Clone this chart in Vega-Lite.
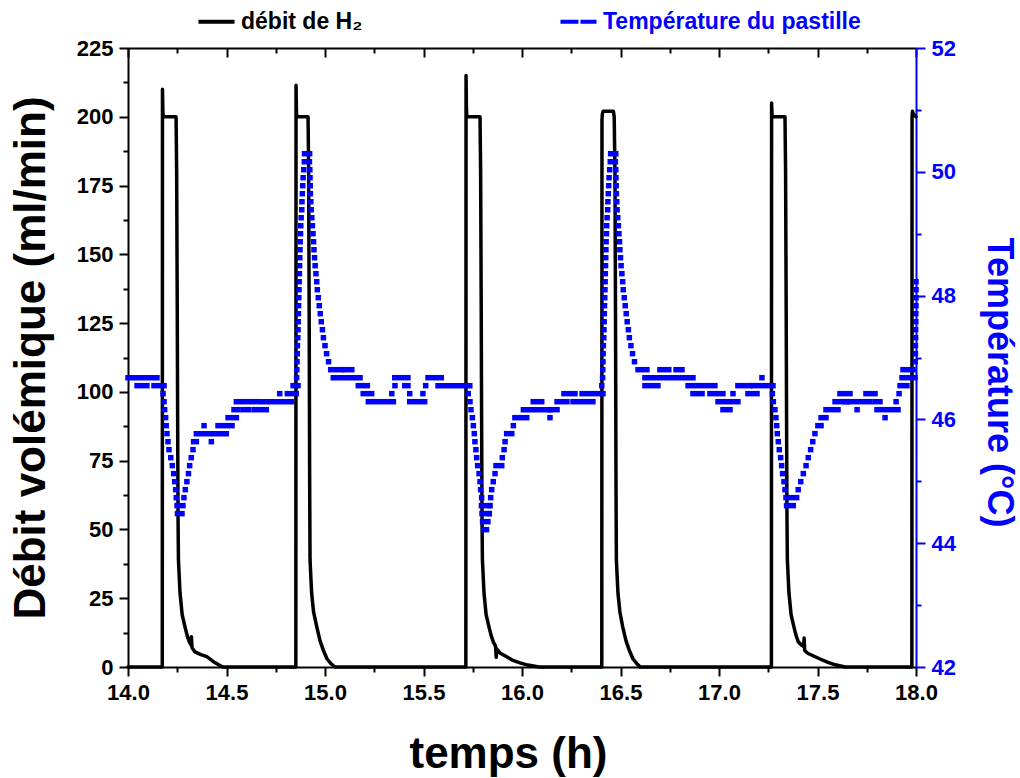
{
"$schema": "https://vega.github.io/schema/vega-lite/v6.json",
"width": 788, "height": 619,
"autosize": {"type": "none"},
"padding": {"left": 128, "top": 48, "right": 104, "bottom": 111},
"config": {"view": {"stroke": null}, "font": "Liberation Sans"},
"datasets": {
"flow": [
{"t":14.0,"flow":0},{"t":14.174,"flow":0},{"t":14.175,"flow":210},{"t":14.177,"flow":202},{"t":14.179,"flow":200},{"t":14.244,"flow":200},{"t":14.247,"flow":180},{"t":14.250,"flow":130},{"t":14.252,"flow":90},{"t":14.254,"flow":55},{"t":14.256,"flow":39},{"t":14.264,"flow":27},{"t":14.275,"flow":19},{"t":14.289,"flow":14.7},{"t":14.300,"flow":11.5},{"t":14.311,"flow":9.2},{"t":14.320,"flow":8},{"t":14.322,"flow":11},{"t":14.325,"flow":7},{"t":14.340,"flow":5.5},{"t":14.370,"flow":4.5},{"t":14.400,"flow":3.8},{"t":14.432,"flow":2},{"t":14.460,"flow":0.8},{"t":14.482,"flow":0},
{"t":14.852,"flow":0},{"t":14.853,"flow":211.5},{"t":14.855,"flow":202},{"t":14.857,"flow":200},{"t":14.914,"flow":200},{"t":14.917,"flow":180},{"t":14.920,"flow":120},{"t":14.922,"flow":70},{"t":14.924,"flow":39},{"t":14.932,"flow":27},{"t":14.942,"flow":20},{"t":14.958,"flow":14.7},{"t":14.975,"flow":9.5},{"t":14.991,"flow":6.2},{"t":15.010,"flow":3},{"t":15.030,"flow":1.2},{"t":15.051,"flow":0},
{"t":15.715,"flow":0},{"t":15.716,"flow":215},{"t":15.718,"flow":203},{"t":15.720,"flow":200},{"t":15.787,"flow":200},{"t":15.790,"flow":180},{"t":15.793,"flow":130},{"t":15.795,"flow":90},{"t":15.797,"flow":55},{"t":15.799,"flow":39},{"t":15.807,"flow":27},{"t":15.818,"flow":19},{"t":15.832,"flow":14.7},{"t":15.843,"flow":11.5},{"t":15.854,"flow":9.2},{"t":15.866,"flow":7.5},{"t":15.869,"flow":3.5},{"t":15.872,"flow":6.5},{"t":15.890,"flow":5},{"t":15.920,"flow":3.8},{"t":15.950,"flow":2.5},{"t":15.990,"flow":1.5},{"t":16.030,"flow":0.7},{"t":16.086,"flow":0},
{"t":16.405,"flow":0},{"t":16.406,"flow":199},{"t":16.408,"flow":201},{"t":16.412,"flow":202},{"t":16.464,"flow":202},{"t":16.468,"flow":200},{"t":16.472,"flow":180},{"t":16.475,"flow":120},{"t":16.477,"flow":70},{"t":16.479,"flow":39},{"t":16.487,"flow":27},{"t":16.497,"flow":20},{"t":16.511,"flow":14.7},{"t":16.528,"flow":9.5},{"t":16.544,"flow":6.2},{"t":16.563,"flow":3},{"t":16.583,"flow":1.2},{"t":16.600,"flow":0},
{"t":17.266,"flow":0},{"t":17.267,"flow":205},{"t":17.269,"flow":201},{"t":17.271,"flow":200},{"t":17.335,"flow":200},{"t":17.338,"flow":180},{"t":17.341,"flow":130},{"t":17.343,"flow":90},{"t":17.345,"flow":55},{"t":17.347,"flow":39},{"t":17.355,"flow":27},{"t":17.366,"flow":19},{"t":17.380,"flow":14.7},{"t":17.391,"flow":11.5},{"t":17.402,"flow":9.2},{"t":17.418,"flow":8},{"t":17.430,"flow":7.5},{"t":17.432,"flow":10.5},{"t":17.435,"flow":6},{"t":17.450,"flow":5},{"t":17.480,"flow":4},{"t":17.510,"flow":3},{"t":17.550,"flow":1.8},{"t":17.590,"flow":0.8},{"t":17.640,"flow":0},
{"t":17.979,"flow":0},{"t":17.980,"flow":200},{"t":17.982,"flow":202},{"t":17.986,"flow":201},{"t":18.0,"flow":200}
],
"temp": [
{"t0":14.000,"t1":14.147,"T":46.674},{"t0":14.046,"t1":14.096,"T":46.545},{"t0":14.132,"t1":14.183,"T":46.545},
{"t0":14.178,"t1":14.178,"T":46.416},{"t0":14.183,"t1":14.183,"T":46.286},{"t0":14.186,"t1":14.186,"T":46.157},{"t0":14.191,"t1":14.191,"T":46.028},{"t0":14.194,"t1":14.194,"T":45.899},{"t0":14.198,"t1":14.198,"T":45.770},{"t0":14.203,"t1":14.203,"T":45.640},{"t0":14.208,"t1":14.208,"T":45.511},{"t0":14.217,"t1":14.217,"T":45.382},{"t0":14.225,"t1":14.225,"T":45.253},{"t0":14.232,"t1":14.232,"T":45.124},{"t0":14.237,"t1":14.237,"T":44.994},{"t0":14.242,"t1":14.242,"T":44.865},{"t0":14.245,"t1":14.245,"T":44.736},
{"t0":14.249,"t1":14.279,"T":44.607},{"t0":14.251,"t1":14.274,"T":44.478},
{"t0":14.284,"t1":14.284,"T":44.736},{"t0":14.291,"t1":14.291,"T":44.865},{"t0":14.299,"t1":14.299,"T":44.994},{"t0":14.307,"t1":14.307,"T":45.124},{"t0":14.313,"t1":14.313,"T":45.253},{"t0":14.321,"t1":14.321,"T":45.382},{"t0":14.330,"t1":14.330,"T":45.511},
{"t0":14.333,"t1":14.347,"T":45.640},{"t0":14.347,"t1":14.499,"T":45.770},{"t0":14.386,"t1":14.386,"T":45.899},{"t0":14.423,"t1":14.423,"T":45.640},{"t0":14.457,"t1":14.528,"T":45.899},{"t0":14.508,"t1":14.550,"T":46.028},{"t0":14.538,"t1":14.558,"T":46.157},{"t0":14.550,"t1":14.660,"T":46.286},{"t0":14.584,"t1":14.614,"T":46.157},{"t0":14.643,"t1":14.702,"T":46.157},{"t0":14.685,"t1":14.829,"T":46.286},{"t0":14.770,"t1":14.770,"T":46.416},{"t0":14.809,"t1":14.854,"T":46.416},{"t0":14.838,"t1":14.863,"T":46.545},
{"t0":14.856,"t1":14.856,"T":46.674},{"t0":14.857,"t1":14.857,"T":46.803},{"t0":14.858,"t1":14.858,"T":46.932},{"t0":14.859,"t1":14.859,"T":47.062},{"t0":14.860,"t1":14.860,"T":47.191},{"t0":14.862,"t1":14.862,"T":47.320},{"t0":14.863,"t1":14.863,"T":47.449},{"t0":14.864,"t1":14.864,"T":47.578},{"t0":14.865,"t1":14.865,"T":47.708},{"t0":14.866,"t1":14.866,"T":47.837},{"t0":14.867,"t1":14.867,"T":47.966},{"t0":14.868,"t1":14.868,"T":48.095},{"t0":14.869,"t1":14.869,"T":48.224},{"t0":14.870,"t1":14.870,"T":48.354},{"t0":14.871,"t1":14.871,"T":48.483},{"t0":14.872,"t1":14.872,"T":48.612},{"t0":14.873,"t1":14.873,"T":48.741},{"t0":14.874,"t1":14.874,"T":48.870},{"t0":14.876,"t1":14.876,"T":49.000},{"t0":14.877,"t1":14.877,"T":49.129},{"t0":14.879,"t1":14.879,"T":49.258},{"t0":14.882,"t1":14.882,"T":49.387},{"t0":14.883,"t1":14.883,"T":49.516},{"t0":14.885,"t1":14.885,"T":49.646},{"t0":14.887,"t1":14.887,"T":49.775},{"t0":14.889,"t1":14.889,"T":49.904},{"t0":14.892,"t1":14.892,"T":50.033},{"t0":14.895,"t1":14.895,"T":50.162},
{"t0":14.896,"t1":14.922,"T":50.292},
{"t0":14.921,"t1":14.921,"T":50.162},{"t0":14.923,"t1":14.923,"T":50.033},{"t0":14.924,"t1":14.924,"T":49.904},{"t0":14.925,"t1":14.925,"T":49.775},{"t0":14.926,"t1":14.926,"T":49.646},{"t0":14.928,"t1":14.928,"T":49.516},{"t0":14.930,"t1":14.930,"T":49.387},{"t0":14.933,"t1":14.933,"T":49.258},{"t0":14.936,"t1":14.936,"T":49.129},{"t0":14.939,"t1":14.939,"T":49.000},{"t0":14.942,"t1":14.942,"T":48.870},{"t0":14.944,"t1":14.944,"T":48.741},{"t0":14.947,"t1":14.947,"T":48.612},{"t0":14.950,"t1":14.950,"T":48.483},{"t0":14.954,"t1":14.954,"T":48.354},{"t0":14.958,"t1":14.958,"T":48.224},{"t0":14.961,"t1":14.961,"T":48.095},{"t0":14.966,"t1":14.966,"T":47.966},{"t0":14.971,"t1":14.971,"T":47.837},{"t0":14.976,"t1":14.976,"T":47.708},{"t0":14.981,"t1":14.981,"T":47.578},{"t0":14.987,"t1":14.987,"T":47.449},{"t0":14.992,"t1":14.992,"T":47.320},{"t0":15.000,"t1":15.000,"T":47.191},{"t0":15.008,"t1":15.008,"T":47.062},{"t0":15.018,"t1":15.018,"T":46.932},
{"t0":15.029,"t1":15.085,"T":46.803},{"t0":15.102,"t1":15.136,"T":46.803},{"t0":15.042,"t1":15.178,"T":46.674},{"t0":15.169,"t1":15.215,"T":46.545},{"t0":15.194,"t1":15.237,"T":46.416},{"t0":15.220,"t1":15.347,"T":46.286},{"t0":15.339,"t1":15.339,"T":46.416},{"t0":15.355,"t1":15.355,"T":46.545},{"t0":15.354,"t1":15.421,"T":46.674},{"t0":15.405,"t1":15.421,"T":46.545},{"t0":15.430,"t1":15.430,"T":46.416},{"t0":15.430,"t1":15.506,"T":46.286},{"t0":15.497,"t1":15.497,"T":46.416},{"t0":15.511,"t1":15.511,"T":46.545},{"t0":15.523,"t1":15.590,"T":46.674},{"t0":15.574,"t1":15.735,"T":46.545},
{"t0":15.727,"t1":15.727,"T":46.416},{"t0":15.736,"t1":15.736,"T":46.286},{"t0":15.741,"t1":15.741,"T":46.157},{"t0":15.748,"t1":15.748,"T":46.028},{"t0":15.753,"t1":15.753,"T":45.899},{"t0":15.758,"t1":15.758,"T":45.770},{"t0":15.761,"t1":15.761,"T":45.640},{"t0":15.766,"t1":15.766,"T":45.511},{"t0":15.770,"t1":15.770,"T":45.382},{"t0":15.775,"t1":15.775,"T":45.253},{"t0":15.782,"t1":15.782,"T":45.124},{"t0":15.787,"t1":15.787,"T":44.994},{"t0":15.790,"t1":15.790,"T":44.865},{"t0":15.795,"t1":15.795,"T":44.736},
{"t0":15.794,"t1":15.832,"T":44.607},{"t0":15.797,"t1":15.832,"T":44.478},{"t0":15.800,"t1":15.827,"T":44.348},{"t0":15.805,"t1":15.820,"T":44.219},
{"t0":15.834,"t1":15.834,"T":44.478},{"t0":15.838,"t1":15.838,"T":44.607},{"t0":15.841,"t1":15.841,"T":44.736},{"t0":15.846,"t1":15.846,"T":44.865},{"t0":15.854,"t1":15.854,"T":44.994},{"t0":15.863,"t1":15.863,"T":45.124},{"t0":15.868,"t1":15.897,"T":45.253},{"t0":15.900,"t1":15.900,"T":45.382},{"t0":15.909,"t1":15.909,"T":45.511},{"t0":15.914,"t1":15.914,"T":45.640},{"t0":15.922,"t1":15.948,"T":45.770},{"t0":15.956,"t1":15.956,"T":45.899},{"t0":15.964,"t1":16.024,"T":46.028},{"t0":16.007,"t1":16.142,"T":46.157},{"t0":16.057,"t1":16.100,"T":46.286},{"t0":16.142,"t1":16.142,"T":46.028},{"t0":16.142,"t1":16.178,"T":46.157},{"t0":16.178,"t1":16.228,"T":46.286},{"t0":16.213,"t1":16.269,"T":46.416},{"t0":16.259,"t1":16.360,"T":46.286},{"t0":16.305,"t1":16.411,"T":46.416},{"t0":16.405,"t1":16.405,"T":46.545},
{"t0":16.409,"t1":16.409,"T":46.674},{"t0":16.410,"t1":16.410,"T":46.803},{"t0":16.411,"t1":16.411,"T":46.932},{"t0":16.412,"t1":16.412,"T":47.062},{"t0":16.413,"t1":16.413,"T":47.191},{"t0":16.415,"t1":16.415,"T":47.320},{"t0":16.416,"t1":16.416,"T":47.449},{"t0":16.417,"t1":16.417,"T":47.578},{"t0":16.418,"t1":16.418,"T":47.708},{"t0":16.419,"t1":16.419,"T":47.837},{"t0":16.420,"t1":16.420,"T":47.966},{"t0":16.421,"t1":16.421,"T":48.095},{"t0":16.422,"t1":16.422,"T":48.224},{"t0":16.423,"t1":16.423,"T":48.354},{"t0":16.424,"t1":16.424,"T":48.483},{"t0":16.425,"t1":16.425,"T":48.612},{"t0":16.426,"t1":16.426,"T":48.741},{"t0":16.427,"t1":16.427,"T":48.870},{"t0":16.429,"t1":16.429,"T":49.000},{"t0":16.430,"t1":16.430,"T":49.129},{"t0":16.432,"t1":16.432,"T":49.258},{"t0":16.435,"t1":16.435,"T":49.387},{"t0":16.436,"t1":16.436,"T":49.516},{"t0":16.438,"t1":16.438,"T":49.646},{"t0":16.440,"t1":16.440,"T":49.775},{"t0":16.442,"t1":16.442,"T":49.904},{"t0":16.445,"t1":16.445,"T":50.033},{"t0":16.448,"t1":16.448,"T":50.162},
{"t0":16.450,"t1":16.476,"T":50.292},
{"t0":16.474,"t1":16.474,"T":50.162},{"t0":16.476,"t1":16.476,"T":50.033},{"t0":16.477,"t1":16.477,"T":49.904},{"t0":16.478,"t1":16.478,"T":49.775},{"t0":16.479,"t1":16.479,"T":49.646},{"t0":16.481,"t1":16.481,"T":49.516},{"t0":16.483,"t1":16.483,"T":49.387},{"t0":16.486,"t1":16.486,"T":49.258},{"t0":16.489,"t1":16.489,"T":49.129},{"t0":16.492,"t1":16.492,"T":49.000},{"t0":16.495,"t1":16.495,"T":48.870},{"t0":16.497,"t1":16.497,"T":48.741},{"t0":16.500,"t1":16.500,"T":48.612},{"t0":16.503,"t1":16.503,"T":48.483},{"t0":16.507,"t1":16.507,"T":48.354},{"t0":16.511,"t1":16.511,"T":48.224},{"t0":16.514,"t1":16.514,"T":48.095},{"t0":16.519,"t1":16.519,"T":47.966},{"t0":16.524,"t1":16.524,"T":47.837},{"t0":16.529,"t1":16.529,"T":47.708},{"t0":16.534,"t1":16.534,"T":47.578},{"t0":16.540,"t1":16.540,"T":47.449},{"t0":16.545,"t1":16.545,"T":47.320},{"t0":16.553,"t1":16.553,"T":47.191},{"t0":16.561,"t1":16.561,"T":47.062},{"t0":16.571,"t1":16.571,"T":46.932},
{"t0":16.589,"t1":16.634,"T":46.803},{"t0":16.624,"t1":16.690,"T":46.545},{"t0":16.624,"t1":16.868,"T":46.674},{"t0":16.700,"t1":16.745,"T":46.803},{"t0":16.782,"t1":16.812,"T":46.803},{"t0":16.843,"t1":16.868,"T":46.545},{"t0":16.868,"t1":16.914,"T":46.416},{"t0":16.893,"t1":16.979,"T":46.545},{"t0":16.954,"t1":17.020,"T":46.416},{"t0":16.995,"t1":17.096,"T":46.286},{"t0":17.020,"t1":17.056,"T":46.157},{"t0":17.071,"t1":17.071,"T":46.416},{"t0":17.096,"t1":17.157,"T":46.545},{"t0":17.147,"t1":17.193,"T":46.416},{"t0":17.173,"t1":17.274,"T":46.545},{"t0":17.218,"t1":17.218,"T":46.674},
{"t0":17.271,"t1":17.271,"T":46.416},{"t0":17.276,"t1":17.276,"T":46.286},{"t0":17.284,"t1":17.284,"T":46.157},{"t0":17.289,"t1":17.289,"T":46.028},{"t0":17.293,"t1":17.293,"T":45.899},{"t0":17.296,"t1":17.296,"T":45.770},{"t0":17.301,"t1":17.301,"T":45.640},{"t0":17.306,"t1":17.306,"T":45.511},{"t0":17.313,"t1":17.313,"T":45.382},{"t0":17.318,"t1":17.318,"T":45.253},{"t0":17.323,"t1":17.323,"T":45.124},{"t0":17.330,"t1":17.330,"T":44.994},{"t0":17.335,"t1":17.335,"T":44.865},
{"t0":17.340,"t1":17.394,"T":44.736},{"t0":17.343,"t1":17.377,"T":44.607},
{"t0":17.402,"t1":17.402,"T":44.865},{"t0":17.415,"t1":17.415,"T":44.994},{"t0":17.428,"t1":17.428,"T":45.124},{"t0":17.442,"t1":17.442,"T":45.253},{"t0":17.453,"t1":17.453,"T":45.382},{"t0":17.465,"t1":17.465,"T":45.511},{"t0":17.476,"t1":17.476,"T":45.640},{"t0":17.487,"t1":17.487,"T":45.770},{"t0":17.502,"t1":17.518,"T":45.899},{"t0":17.518,"t1":17.543,"T":46.028},{"t0":17.543,"t1":17.604,"T":46.157},{"t0":17.589,"t1":17.650,"T":46.286},{"t0":17.614,"t1":17.665,"T":46.416},{"t0":17.640,"t1":17.766,"T":46.286},{"t0":17.701,"t1":17.701,"T":46.157},{"t0":17.746,"t1":17.792,"T":46.416},{"t0":17.792,"t1":17.817,"T":46.286},{"t0":17.802,"t1":17.909,"T":46.157},{"t0":17.843,"t1":17.843,"T":46.028},{"t0":17.899,"t1":17.899,"T":46.286},{"t0":17.914,"t1":17.914,"T":46.416},{"t0":17.919,"t1":17.954,"T":46.545},{"t0":17.929,"t1":17.995,"T":46.674},{"t0":17.934,"t1":17.985,"T":46.803},
{"t0":17.996,"t1":17.996,"T":46.932},{"t0":17.997,"t1":17.997,"T":47.062},{"t0":17.997,"t1":17.997,"T":47.191},{"t0":17.998,"t1":17.998,"T":47.320},{"t0":17.998,"t1":17.998,"T":47.449},{"t0":17.999,"t1":17.999,"T":47.578},{"t0":17.999,"t1":17.999,"T":47.708},{"t0":18.0,"t1":18.0,"T":47.837},{"t0":18.0,"t1":18.0,"T":47.966},{"t0":18.0,"t1":18.0,"T":48.095},{"t0":18.0,"t1":18.0,"T":48.224}
]
},
"layer": [
{
"data": {"name": "flow"},
"mark": {"type": "line", "strokeWidth": 3.5, "strokeJoin": "round", "strokeCap": "round"},
"encoding": {
"x": {"field": "t", "type": "quantitative", "scale": {"domain": [14, 18], "nice": false, "zero": false},
"axis": {"orient": "bottom", "values": [14,14.25,14.5,14.75,15,15.25,15.5,15.75,16,16.25,16.5,16.75,17,17.25,17.5,17.75,18], "format": ".1f", "labelExpr": "(datum.value*2) % 1 === 0 ? datum.label : ''", "tickSize": {"condition": {"test": "(datum.value*2) % 1 === 0", "value": 9}, "value": 5}, "tickWidth": 2, "tickColor": "#000000", "domainColor": "#000000", "domainWidth": 2, "labelFontSize": 22, "labelFontWeight": "bold", "labelColor": "#000000", "labelPadding": 6, "labelFlush": false, "labelOverlap": false, "grid": false, "title": "temps (h)", "titleFontSize": 44, "titleFontWeight": "bold", "titleColor": "#000000", "titlePadding": 29, "titleX": 380, "titleAlign": "center"}},
"y": {"field": "flow", "type": "quantitative", "scale": {"domain": [0, 225], "nice": false},
"axis": {"orient": "left", "values": [0,12.5,25,37.5,50,62.5,75,87.5,100,112.5,125,137.5,150,162.5,175,187.5,200,212.5,225], "labelExpr": "datum.value % 25 === 0 ? datum.label : ''", "tickSize": {"condition": {"test": "datum.value % 25 === 0", "value": 9}, "value": 5}, "tickWidth": 2, "tickColor": "#000000", "domainColor": "#000000", "domainWidth": 2, "labelFontSize": 22, "labelFontWeight": "bold", "labelColor": "#000000", "labelPadding": 6, "labelOverlap": false, "grid": false, "title": "Débit volémique (ml/min)", "titleFontSize": 44, "titleFontWeight": "bold", "titleColor": "#000000", "titlePadding": 23}},
"color": {"datum": "débit de H₂", "type": "nominal", "scale": {"domain": ["débit de H₂", "Température du pastille"], "range": ["#000000", "#0000ff"]},
"legend": {"orient": "none", "legendX": 68, "legendY": -47, "direction": "horizontal", "columns": 2, "columnPadding": 189, "title": null, "symbolType": "stroke", "symbolSize": 1300, "symbolStrokeWidth": 4, "labelFont": "Liberation Sans", "labelFontSize": 23, "labelFontWeight": "bold", "labelOffset": 4, "labelLimit": 400,
"encode": {"labels": {"update": {"fill": {"signal": "datum.value === 'Température du pastille' ? '#0000ff' : '#000000'"}}}, "symbols": {"update": {"strokeDash": {"signal": "datum.value === 'Température du pastille' ? [18, 2] : [1, 0]"}}}}}}
}
},
{
"data": {"name": "temp"},
"mark": {"type": "rule", "strokeWidth": 5.5, "strokeCap": "square"},
"encoding": {
"x": {"field": "t0", "type": "quantitative",
"axis": {"orient": "bottom", "offset": -619, "values": [14,14.25,14.5,14.75,15,15.25,15.5,15.75,16,16.25,16.5,16.75,17,17.25,17.5,17.75,18], "labels": false, "tickSize": {"condition": {"test": "(datum.value*2) % 1 === 0", "value": 9}, "value": 5}, "tickWidth": 2, "tickColor": "#000000", "domainColor": "#000000", "domainWidth": 2, "grid": false, "title": null}},
"x2": {"field": "t1"},
"y": {"field": "T", "type": "quantitative", "scale": {"domain": [42, 52], "nice": false, "zero": false},
"axis": {"orient": "right", "values": [42,43,44,45,46,47,48,49,50,51,52], "labelExpr": "datum.value % 2 === 0 ? datum.label : ''", "tickSize": {"condition": {"test": "datum.value % 2 === 0", "value": 9}, "value": 5}, "tickWidth": 2, "tickColor": "#0000ff", "domainColor": "#0000ff", "domainWidth": 2, "labelFontSize": 22, "labelFontWeight": "bold", "labelColor": "#0000ff", "labelPadding": 6, "labelOverlap": false, "grid": false, "title": "Température (°C)", "titleFontSize": 36, "titleFontWeight": "bold", "titleColor": "#0000ff", "titlePadding": 24, "titleY": 334}},
"color": {"datum": "Température du pastille", "type": "nominal"}
}
}
],
"resolve": {"scale": {"y": "independent"}, "axis": {"x": "independent"}}
}
